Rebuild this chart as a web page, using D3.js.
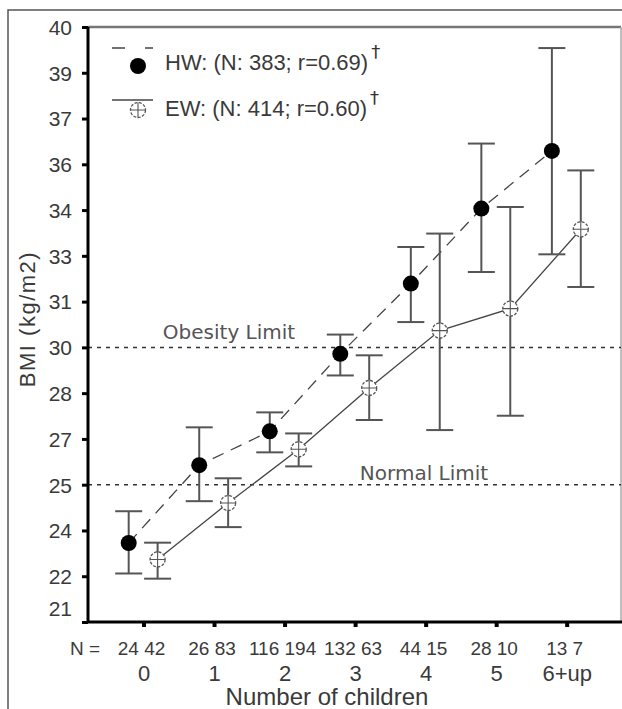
<!DOCTYPE html>
<html>
<head>
<meta charset="utf-8">
<script src="https://cdn.jsdelivr.net/npm/d3@7"></script>
<style>
  body { margin: 0; background: #fff; }
  svg { display: block; }
</style>
</head>
<body>
<div id="vis"></div>
<script>
// BMI by number of children, HW vs EW

const categories = ["0", "1", "2", "3", "4", "5", "6+up"];
const hwN = [24, 26, 116, 132, 44, 28, 13];
const ewN = [42, 83, 194, 63, 15, 10, 7];

const hwMean  = [23.59, 26.14, 27.25, 29.79, 32.09, 34.55, 36.44];
const hwUpper = [24.63, 27.38, 27.87, 30.42, 33.29, 36.68, 39.81];
const hwLower = [22.59, 24.96, 26.56, 29.08, 30.83, 32.47, 33.05];

const ewMean  = [23.05, 24.90, 26.66, 28.67, 30.55, 31.27, 33.87];
const ewUpper = [23.60, 25.71, 27.18, 29.74, 33.73, 34.60, 35.80];
const ewLower = [22.42, 24.11, 26.10, 27.62, 27.29, 27.76, 31.98];

const yTicks = [21, 22.5, 24, 25.5, 27, 28.5, 30, 31.5, 33, 34.5, 36, 37.5, 39, 40.5];
const yTickLabels = ["21", "22", "24", "25", "27", "28", "30", "31", "33", "34", "36", "37", "39", "40"];

const limitValues = [30, 25.5];
const limitLabels = ["Obesity Limit", "Normal Limit"];

const legendLabels = ["HW: (N: 383; r=0.69)", "EW: (N: 414; r=0.60)"];

let margin = { top: 27, left: 88, right: 1, bottom: 87 },
  width = 622 - margin.left - margin.right,
  height = 709 - margin.top - margin.bottom;

let font = "'Liberation Sans', Arial, sans-serif";
let ink = "#3a3a3a";

let svg = d3.select('#vis')
  .append('svg')
  .attr('width', 622)
  .attr('height', 709);

// outer frame (cropped on right / bottom)
svg.append('rect')
  .attr('x', 8).attr('y', 10)
  .attr('width', 700).attr('height', 800)
  .attr('fill', 'none')
  .attr('stroke', '#555')
  .attr('stroke-width', 1.5);

let g = svg.append('g')
  .attr('transform', 'translate(' + margin.left + ',' + margin.top + ')');

let x = d3.scaleLinear()
  .domain([-0.787, 6.77])
  .range([0, width]);

let y = d3.scaleLinear()
  .domain([21, 40.5])
  .range([height, 0]);

// plot frame top + right (light gray)
g.append('line')
  .attr('x1', 0).attr('x2', width).attr('y1', 0).attr('y2', 0)
  .attr('stroke', '#777').attr('stroke-width', 2.5);
g.append('line')
  .attr('x1', width).attr('x2', width).attr('y1', 0).attr('y2', height)
  .attr('stroke', '#aaa').attr('stroke-width', 1.5);

// reference limits
limitValues.forEach(function(v, i) {
  g.append('line')
    .attr('x1', 0).attr('x2', width)
    .attr('y1', y(v)).attr('y2', y(v))
    .attr('stroke', '#333')
    .attr('stroke-width', 1.5)
    .attr('stroke-dasharray', '4,5');
});
g.append('text')
  .attr('x', 141).attr('y', y(limitValues[0]) - 15)
  .attr('text-anchor', 'middle').attr('dominant-baseline', 'central')
  .style('font-family', "'DejaVu Sans', sans-serif").style('font-size', '20px')
  .attr('fill', '#555')
  .text(limitLabels[0]);
g.append('text')
  .attr('x', 336).attr('y', y(limitValues[1]) - 12)
  .attr('text-anchor', 'middle').attr('dominant-baseline', 'central')
  .style('font-family', "'DejaVu Sans', sans-serif").style('font-size', '20px')
  .attr('fill', '#555')
  .text(limitLabels[1]);

// y axis
let yAxis = g.append('g')
  .call(d3.axisLeft(y)
    .tickValues(yTicks)
    .tickSize(6)
    .tickFormat(function(d, i) { return yTickLabels[i]; }));
yAxis.select('.domain').attr('stroke', '#000').attr('stroke-width', 3)
  .attr('d', 'M0,0V' + height);
yAxis.selectAll('.tick line').attr('stroke', '#000').attr('stroke-width', 3);
yAxis.selectAll('.tick text')
  .attr('x', -16)
  .attr('dy', function(d) { return d === 21 ? '-0.3em' : '0.35em'; })
  .style('font-family', font).style('font-size', '21px')
  .attr('fill', ink);

// x axis
let xAxis = g.append('g')
  .attr('transform', 'translate(0,' + height + ')')
  .call(d3.axisBottom(x)
    .tickValues(d3.range(categories.length))
    .tickSize(5)
    .tickFormat(function(d) { return categories[d]; }));
xAxis.select('.domain').attr('stroke', '#000').attr('stroke-width', 3)
  .attr('d', 'M0,0H' + (width + 1));
xAxis.selectAll('.tick line').attr('stroke', '#000').attr('stroke-width', 4);
xAxis.selectAll('.tick text')
  .attr('y', 51).attr('dy', '0.35em')
  .style('font-family', font).style('font-size', '22px')
  .attr('fill', ink);

// N counts under each tick
let nRow = g.append('g').attr('transform', 'translate(0,' + (height + 26) + ')');
nRow.append('text')
  .attr('x', 100 - margin.left).attr('y', 0)
  .attr('text-anchor', 'end').attr('dy', '0.35em')
  .style('font-family', font).style('font-size', '19px')
  .attr('fill', ink)
  .text('N =');
nRow.selectAll('.npair')
  .data(hwN)
  .enter().append('text')
  .attr('class', 'npair')
  .attr('x', function(d, i) { return x(i) - 2; })
  .attr('text-anchor', 'middle').attr('dy', '0.35em')
  .style('font-family', font).style('font-size', '19px')
  .attr('fill', ink)
  .text(function(d, i) { return d + ' ' + ewN[i]; });

// axis titles
svg.append('text')
  .attr('x', 327).attr('y', 697)
  .attr('text-anchor', 'middle').attr('dy', '0.35em')
  .style('font-family', font).style('font-size', '24px')
  .attr('fill', ink)
  .text('Number of children');

svg.append('text')
  .attr('transform', 'translate(27,319) rotate(-90)')
  .attr('text-anchor', 'middle').attr('dy', '0.35em')
  .style('font-family', font).style('font-size', '22px')
  .style('letter-spacing', '1.5px')
  .attr('fill', ink)
  .text('BMI (kg/m2)');

// build series rows
function rows(mean, lower, upper, offset) {
  return mean.map(function(m, i) {
    return { cx: i + offset, mean: m, lower: lower[i], upper: upper[i] };
  });
}
let hw = rows(hwMean, hwLower, hwUpper, -0.21);
let ew = rows(ewMean, ewLower, ewUpper, 0.2);

let line = d3.line()
  .x(function(d) { return x(d.cx); })
  .y(function(d) { return y(d.mean); });

// connecting lines
g.append('path')
  .datum(hw)
  .attr('fill', 'none')
  .attr('stroke', '#444')
  .attr('stroke-width', 1.3)
  .attr('stroke-dasharray', '12,8')
  .attr('d', line);
g.append('path')
  .datum(ew)
  .attr('fill', 'none')
  .attr('stroke', '#444')
  .attr('stroke-width', 1.3)
  .attr('d', line);

// error bars
function errorBars(data) {
  let eb = g.append('g').selectAll('g')
    .data(data)
    .enter().append('g')
    .attr('stroke', '#555')
    .attr('stroke-width', 2);
  eb.append('line')
    .attr('x1', function(d) { return x(d.cx); })
    .attr('x2', function(d) { return x(d.cx); })
    .attr('y1', function(d) { return y(d.lower); })
    .attr('y2', function(d) { return y(d.upper); });
  eb.append('line')
    .attr('x1', function(d) { return x(d.cx) - 13.5; })
    .attr('x2', function(d) { return x(d.cx) + 13.5; })
    .attr('y1', function(d) { return y(d.upper); })
    .attr('y2', function(d) { return y(d.upper); });
  eb.append('line')
    .attr('x1', function(d) { return x(d.cx) - 13.5; })
    .attr('x2', function(d) { return x(d.cx) + 13.5; })
    .attr('y1', function(d) { return y(d.lower); })
    .attr('y2', function(d) { return y(d.lower); });
}
errorBars(hw);
errorBars(ew);

// markers
function filledMarker(sel, cx, cy) {
  sel.append('circle')
    .attr('cx', cx).attr('cy', cy).attr('r', 8)
    .attr('fill', '#000');
}
function openMarker(sel, cx, cy) {
  sel.append('circle')
    .attr('cx', cx).attr('cy', cy).attr('r', 7.5)
    .attr('fill', '#fff')
    .attr('stroke', '#555')
    .attr('stroke-width', 1.3)
    .attr('stroke-dasharray', '3,1.5');
  sel.append('path')
    .attr('d', 'M' + (cx - 7.5) + ',' + cy + 'H' + (cx + 7.5) + 'M' + cx + ',' + (cy - 7.5) + 'V' + (cy + 7.5))
    .attr('stroke', '#555')
    .attr('stroke-width', 1.1);
}
hw.forEach(function(d) { filledMarker(g, x(d.cx), y(d.mean)); });
ew.forEach(function(d) { openMarker(g, x(d.cx), y(d.mean)); });

// legend
let legend = svg.append('g');
legend.append('line')
  .attr('x1', 112).attr('x2', 153).attr('y1', 48).attr('y2', 48)
  .attr('stroke', '#444').attr('stroke-width', 1.5)
  .attr('stroke-dasharray', '13,20');
filledMarker(legend, 138, 66);
legend.append('line')
  .attr('x1', 112).attr('x2', 153).attr('y1', 100).attr('y2', 100)
  .attr('stroke', '#444').attr('stroke-width', 1.5);
openMarker(legend, 138, 110);

legendLabels.forEach(function(t, i) {
  let label = legend.append('text')
    .attr('x', 165).attr('y', 62 + i * 46)
    .attr('dy', '0.35em')
    .style('font-family', font).style('font-size', '22px')
    .attr('fill', ink)
    .text(t);
  let w = label.node().getComputedTextLength();
  // dagger superscript right after the label
  legend.append('text')
    .attr('x', 165 + w + 3).attr('y', 52 + i * 46)
    .attr('dy', '0.35em')
    .style('font-family', "'DejaVu Sans', sans-serif").style('font-size', '18px')
    .attr('fill', '#333')
    .text('\u2020');
});
</script>
</body>
</html>
